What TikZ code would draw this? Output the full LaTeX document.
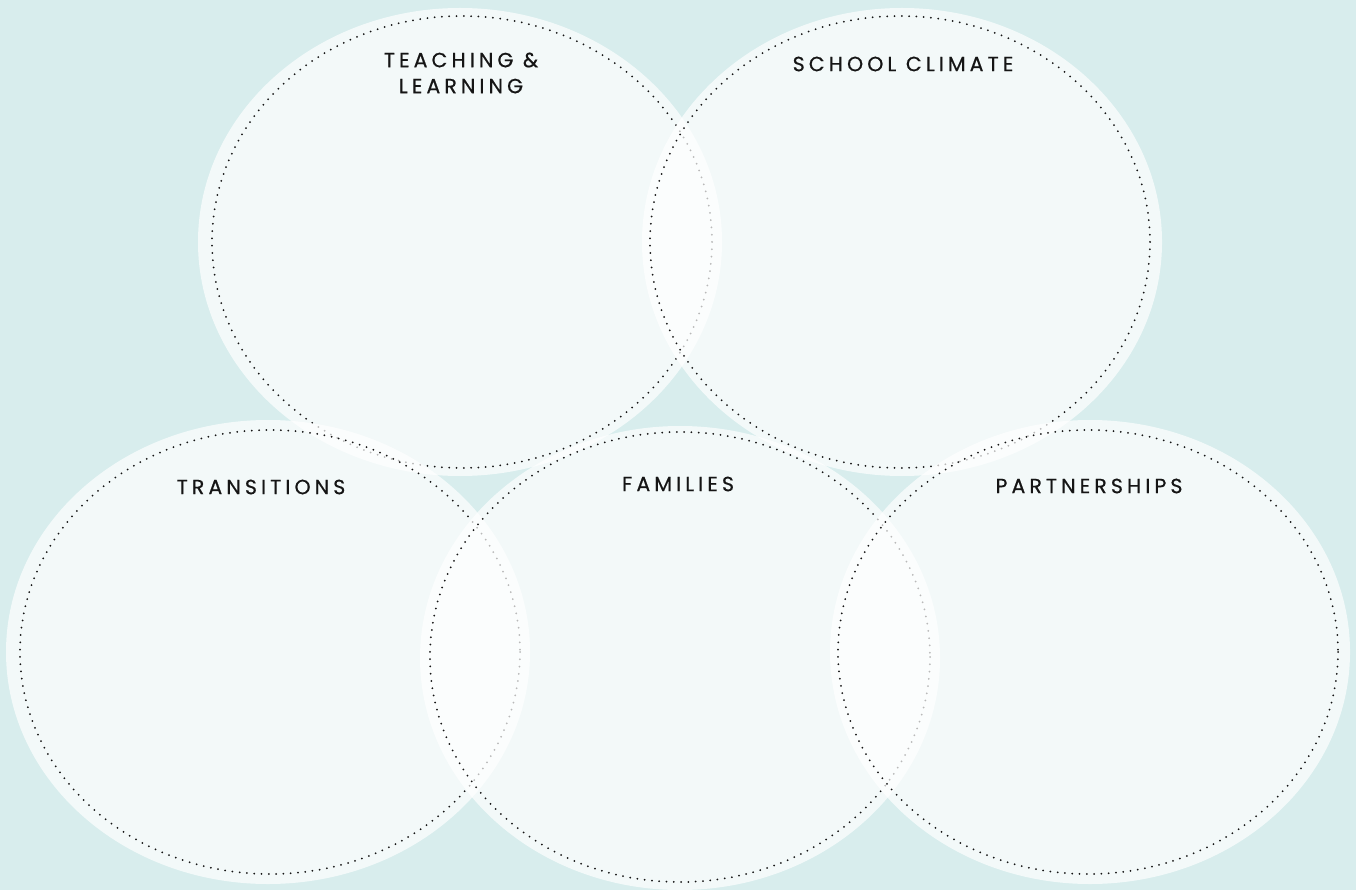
\documentclass[tikz,border=0pt]{standalone}
\usepackage{fontspec}
\newfontfamily\labfont[LetterSpace=20,FakeBold=0.6]{Poppins}
\definecolor{bgteal}{HTML}{D8EDED}
\definecolor{inkc}{HTML}{151515}
\tikzset{
  blob/.style={fill=white, fill opacity=0.7, draw=none},
  rim/.style={draw=inkc, line width=2pt, line cap=round, dash pattern=on 0pt off 7.3pt},
  lab/.style={text=inkc, font=\labfont\fontsize{20.5}{26}\selectfont, align=center, inner sep=0pt}
}
\begin{document}
\begin{tikzpicture}[x=1pt,y=-1pt]
\fill[bgteal] (0,0) rectangle (1356,890);
\useasboundingbox (0,0) rectangle (1356,890);
% Teaching & Learning
\fill[blob] (460,242) ellipse [x radius=262, y radius=234];
\draw[rim] (462,242) ellipse [x radius=250, y radius=226];
% School climate
\fill[blob] (902,242) ellipse [x radius=260, y radius=234];
\draw[rim] (900,242) ellipse [x radius=250, y radius=226];
% Transitions
\fill[blob] (268,652) ellipse [x radius=262, y radius=232];
\draw[rim] (270,652) ellipse [x radius=250, y radius=222];
% Families
\fill[blob] (680,658) ellipse [x radius=260, y radius=232];
\draw[rim] (680,657) ellipse [x radius=250, y radius=225];
% Partnerships
\fill[blob] (1090,652) ellipse [x radius=260, y radius=232];
\draw[rim] (1088,652) ellipse [x radius=250, y radius=222];
% labels
\node[lab] (tl) at (461,73) {TEACHING \&\\LEARNING};
\node[lab] (sc) at (903,64) {SCHOOL CLIMATE};
\node[lab] (tr) at (261,487) {TRANSITIONS};
\node[lab] (fa) at (678,484) {FAMILIES};
\node[lab] (pa) at (1089,486) {PARTNERSHIPS};
\end{tikzpicture}
\end{document}
